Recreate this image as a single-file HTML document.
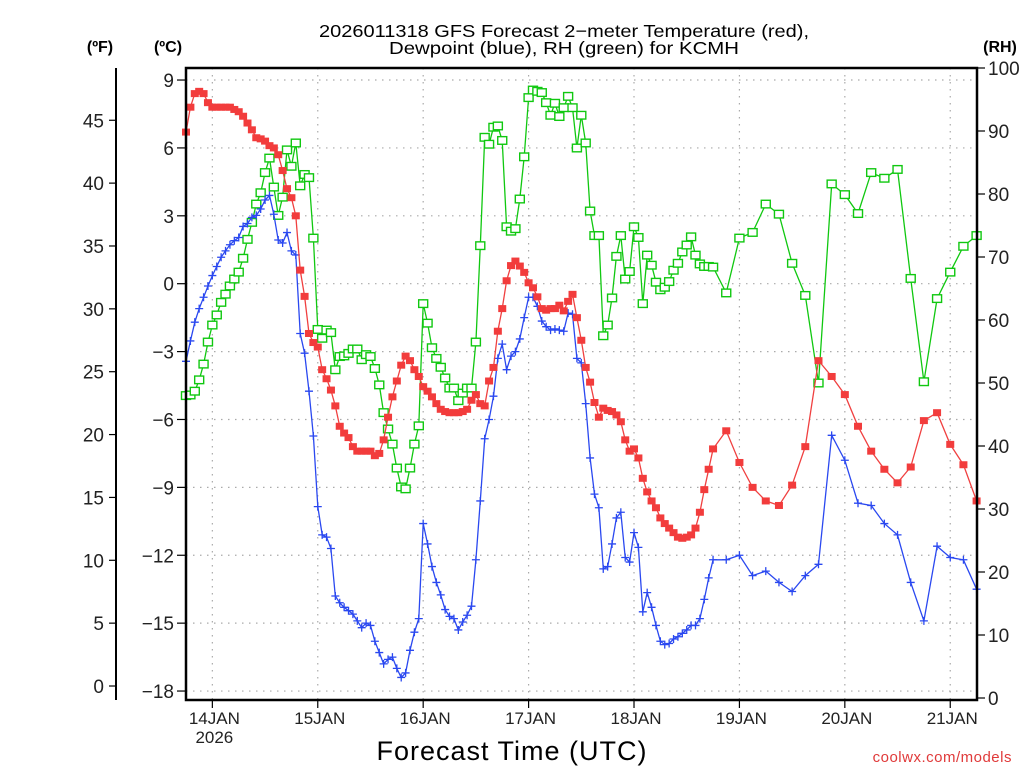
<!DOCTYPE html>
<html><head><meta charset="utf-8"><style>
html,body{margin:0;padding:0;background:#fff}
svg text{font-family:"Liberation Sans",sans-serif}
</style></head><body>
<svg id="chart" width="1024" height="768" viewBox="0 0 1024 768" xmlns="http://www.w3.org/2000/svg">
<g font-size="17.5" fill="#000" text-anchor="middle">
<text x="564" y="37" textLength="490" lengthAdjust="spacingAndGlyphs">2026011318 GFS Forecast 2−meter Temperature (red),</text>
<text x="564" y="54" textLength="350" lengthAdjust="spacingAndGlyphs">Dewpoint (blue), RH (green) for KCMH</text>
</g>
<text x="100" y="52" font-size="16" font-weight="bold" text-anchor="middle">(ºF)</text>
<text x="168" y="52" font-size="16" font-weight="bold" text-anchor="middle">(ºC)</text>
<text x="1000" y="52" font-size="16" font-weight="bold" text-anchor="middle">(RH)</text>
<g id="grid"></g>
<g id="axes"></g>
<g id="series"></g>
<rect x="186" y="68" width="791" height="632" fill="none" stroke="#000" stroke-width="2.5"/>
<text x="512" y="760" font-size="27" text-anchor="middle" letter-spacing="1">Forecast Time (UTC)</text>
<text x="1012" y="762" font-size="15" fill="#e03a3a" text-anchor="end" letter-spacing="0.5">coolwx.com/models</text>
</svg>
<script>
const tempHourly=[6.7,7.8,8.4,8.5,8.4,8.0,7.8,7.8,7.8,7.8,7.8,7.7,7.6,7.4,7.1,6.8,6.45,6.4,6.3,6.1,6.0,5.7,5.0,4.2,3.8,3.0,0.6,-0.56,-2.2,-2.6,-2.8,-3.8,-4.2,-4.7,-5.4,-6.3,-6.6,-6.8,-7.2,-7.4,-7.4,-7.4,-7.4,-7.6,-7.5,-6.9,-5.9,-5.0,-4.3,-3.6,-3.2,-3.4,-3.8,-4.1,-4.55,-4.75,-5.0,-5.3,-5.55,-5.65,-5.7,-5.7,-5.7,-5.65,-5.55,-5.15,-4.9,-5.3,-5.4,-4.3,-3.7,-2.1,-1.1,0.13,0.8,1.0,0.78,0.5,0.04,-0.18,-0.58,-1.1,-1.17,-1.1,-1.1,-0.95,-1.2,-0.78,-0.47,-1.5,-2.5,-3.7,-4.35,-5.25,-5.9,-5.5,-5.6,-5.65,-5.8,-6.1,-6.9,-7.4,-7.3,-7.7,-8.6,-9.2,-9.6,-9.9,-10.35,-10.6,-10.8,-11.0,-11.2,-11.25,-11.2,-11.1,-10.8,-10.1,-9.1,-8.2,-7.3];
const temp3h=[-6.5,-7.9,-9.0,-9.6,-9.8,-8.9,-7.2,-3.4,-4.1,-4.9,-6.3,-7.4,-8.2,-8.8,-8.1,-6.05,-5.7,-7.1,-8.0,-9.6];
const dewHourly=[-3.43,-2.53,-1.7,-1.1,-0.6,-0.1,0.36,0.76,1.17,1.45,1.72,1.9,2.04,2.53,2.66,2.93,3.02,3.3,3.7,3.9,3.07,1.93,1.8,2.26,1.45,1.27,-2.2,-3.07,-4.75,-6.73,-9.85,-11.1,-11.2,-11.7,-13.8,-14.1,-14.3,-14.45,-14.6,-14.9,-15.2,-15.0,-15.1,-15.8,-16.3,-16.8,-16.6,-16.5,-17.0,-17.4,-17.2,-16.2,-15.4,-14.8,-10.6,-11.5,-12.5,-13.2,-13.75,-14.4,-14.7,-14.8,-15.3,-14.95,-14.65,-14.25,-12.2,-9.6,-6.85,-6.0,-4.97,-3.3,-2.67,-3.8,-3.2,-3.0,-2.44,-1.5,-0.6,-0.6,-1.0,-1.65,-1.9,-2.05,-2.0,-2.05,-2.1,-1.3,-1.35,-3.3,-3.5,-5.3,-7.7,-9.3,-9.9,-12.6,-12.5,-11.5,-10.35,-10.1,-12.1,-12.3,-11.0,-11.65,-14.5,-13.65,-14.3,-15.1,-15.8,-15.95,-15.9,-15.7,-15.6,-15.45,-15.3,-15.1,-15.1,-14.8,-13.95,-13.0,-12.2];
const dew3h=[-12.2,-12.0,-12.9,-12.7,-13.2,-13.6,-12.9,-12.4,-6.7,-7.8,-9.7,-9.8,-10.6,-11.1,-13.2,-14.9,-11.6,-12.1,-12.2,-13.5];
const rhHourly=[48,48.1,48.7,50.5,53.0,56.5,59.2,60.8,62.8,64.1,65.4,66.5,67.6,69.8,72.8,75.5,78.4,80.2,83.4,85.7,81.1,76.6,79.5,87.0,84.4,88.1,81.3,83.1,82.6,73.0,58.5,57.1,58.4,58.0,52.1,54.2,54.3,54.7,55.4,55.4,53.7,54.5,54.2,52.3,49.7,45.3,42.7,40.3,36.5,33.5,33.2,36.5,40.3,43.2,62.6,59.5,55.6,53.9,52.5,50.8,49.2,49.2,47.2,48.4,49.2,49.2,56.5,71.8,89.0,87.9,90.6,90.8,88.5,74.8,74.1,74.5,79.2,85.9,95.3,96.5,96.3,96.1,94.5,92.5,94.4,92.3,93.7,95.5,93.7,87.3,92.5,88.1,77.3,73.4,73.4,57.5,59.2,63.5,70.1,73.4,66.5,67.7,74.8,73.1,62.6,70.3,68.7,66.0,64.8,65.2,66.1,67.9,69.0,70.8,71.9,73.2,70.3,68.9,68.5,68.5,68.4];
const rh3h=[64.3,73.0,73.9,78.4,76.8,69.0,63.9,50.0,81.6,79.9,76.9,83.4,82.5,83.9,66.6,50.2,63.4,67.6,71.7,73.4];
const celsiusTicks=[9,6,3,0,-3,-6,-9,-12,-15,-18];
const fahrenheitTicks=[45,40,35,30,25,20,15,10,5,0];
const rhTicks=[100,90,80,70,60,50,40,30,20,10,0];
const dayLabels=["14JAN","15JAN","16JAN","17JAN","18JAN","19JAN","20JAN","21JAN"];
const dayHours=[6,30,54,78,102,126,150,174];

const NS="http://www.w3.org/2000/svg";
const X0=186,PXH=790.6/180;
function xs(h){return X0+h*PXH;}
function yc(c){return 283.7-c*22.63;}
function yf(f){return yc((f-32)/1.8);}
function yr(r){return 698-r*6.3;}
function mk(tag,attrs,parent){const e=document.createElementNS(NS,tag);for(const k in attrs)e.setAttribute(k,attrs[k]);parent.appendChild(e);return e;}
const grid=document.getElementById('grid'),axes=document.getElementById('axes'),series=document.getElementById('series');

// hours
const hours=[];
for(let i=0;i<tempHourly.length;i++)hours.push(i);
for(let i=0;i<temp3h.length;i++)hours.push(123+3*i);
const temp=tempHourly.concat(temp3h),dew=dewHourly.concat(dew3h),rh=rhHourly.concat(rh3h);

// grid + C ticks
celsiusTicks.forEach(c=>{
  const y=yc(c);
  const g=mk('line',{x1:X0,x2:977,y1:y,y2:y,stroke:'#aaa','stroke-width':1.2,'stroke-dasharray':'1.5,5.5'},grid);
  
  
  const t=mk('line',{x1:177,x2:186,y1:y,y2:y,stroke:'#000','stroke-width':1.2},axes);
  
  
  const l=mk('text',{x:174,y:y+7,'font-size':19,'text-anchor':'end',fill:'#222'},axes);
  l.textContent=c<0?'−'+Math.abs(c):String(c);
  
  
});
dayHours.forEach((h,i)=>{
  const x=xs(h);
  const g=mk('line',{x1:x,x2:x,y1:68,y2:700,stroke:'#aaa','stroke-width':1.2,'stroke-dasharray':'1.5,5.5'},grid);
  
  
  const t=mk('line',{x1:x,x2:x,y1:700,y2:708,stroke:'#000','stroke-width':1.2},axes);
  
  
  const l=mk('text',{x:x+2,y:724,'font-size':17,'text-anchor':'middle',fill:'#222'},axes);
  l.textContent=dayLabels[i];
  
  
});
const yl=mk('text',{x:xs(6)+2,y:743,'font-size':17,'text-anchor':'middle',fill:'#222'},axes);
yl.textContent='2026';



// F axis
const fa=mk('line',{x1:116,x2:116,y1:68,y2:700,stroke:'#000','stroke-width':2},axes);


fahrenheitTicks.forEach(f=>{
  const y=yf(f);
  const t=mk('line',{x1:109,x2:116,y1:y,y2:y,stroke:'#000','stroke-width':1.2},axes);
  
  
  const l=mk('text',{x:104,y:y+7,'font-size':19,'text-anchor':'end',fill:'#222'},axes);
  l.textContent=String(f);
  
  
});
// RH axis
rhTicks.forEach(r=>{
  const y=yr(r);
  const t=mk('line',{x1:977,x2:985,y1:y,y2:y,stroke:'#000','stroke-width':1.2},axes);
  
  
  const l=mk('text',{x:988,y:y+7,'font-size':19,'text-anchor':'start',fill:'#222'},axes);
  l.textContent=String(r);
  
  
});

function line(vals,yfn,color,name){
  const pts=vals.map((v,i)=>xs(hours[i]).toFixed(1)+','+yfn(v).toFixed(1)).join(' ');
  const p=mk('polyline',{points:pts,fill:'none',stroke:color,'stroke-width':1.3},series);
  
  
}
// RH
line(rh,yr,'#10c810','rh-line');
rh.forEach((v,i)=>{
  const r=mk('rect',{x:xs(hours[i])-4.5,y:yr(v)-3.8,width:9,height:7.6,fill:'#fff',stroke:'#10c810','stroke-width':1.4},series);
  
  
});
// Dewpoint
line(dew,yc,'#2a48f0','dewpoint-line');
dew.forEach((v,i)=>{
  const x=xs(hours[i]),y=yc(v);
  const p=mk('path',{d:`M${x-4},${y}H${x+4}M${x},${y-4}V${y+4}`,stroke:'#2a48f0','stroke-width':1.3,fill:'none'},series);
  
  
});
// Temperature
line(temp,yc,'#f04040','temperature-line');
temp.forEach((v,i)=>{
  const r=mk('rect',{x:xs(hours[i])-4,y:yc(v)-3.5,width:8,height:7,fill:'#f23c3c'},series);
  
  
});
</script>
</body></html>
